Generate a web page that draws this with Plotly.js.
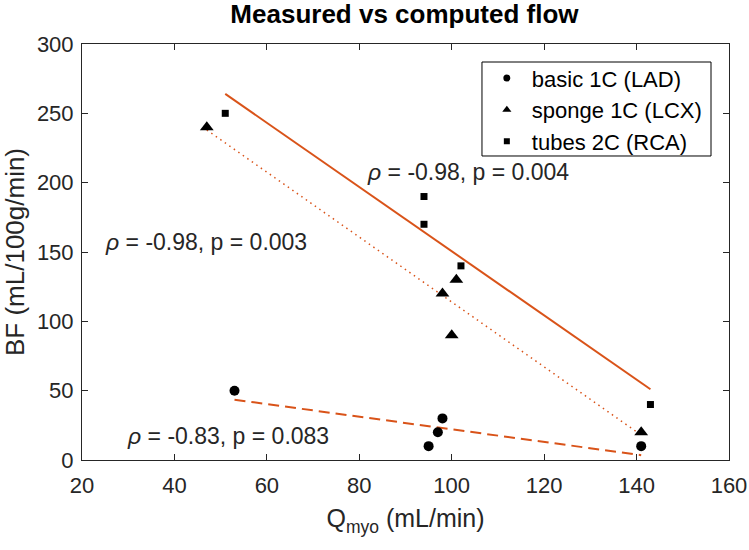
<!DOCTYPE html>
<html>
<head>
<meta charset="utf-8">
<script src="https://cdn.plot.ly/plotly-3.0.1.min.js"></script>
<style>html,body{margin:0;padding:0;background:#fff;}#chart{width:749px;height:550px;}</style>
</head>
<body>
<div id="chart"></div>
<script>
// Data
const ladName = 'basic 1C (LAD)';
const lcxName = 'sponge 1C (LCX)';
const rcaName = 'tubes 2C (RCA)';

const ladX = [53, 95, 97, 98, 141];
const ladY = [50, 10, 20, 30, 10];
const lcxX = [47, 98, 100, 101, 141];
const lcxY = [240, 120, 90, 130, 20];
const rcaX = [51, 94, 94, 102, 143];
const rcaY = [250, 190, 170, 140, 40];

// Fit lines (end points)
const fitLadX = [53, 141];
const fitLadY = [43.5, 3.5];
const fitLcxX = [47, 141];
const fitLcxY = [238, 18];
const fitRcaX = [51, 143];
const fitRcaY = [264, 51];

const xTicks = [20, 40, 60, 80, 100, 120, 140, 160];
const yTicks = [0, 50, 100, 150, 200, 250, 300];

const notes = [
  {x: 81.3, y: 208, text: '<i>ρ</i> = -0.98, p = 0.004'},
  {x: 24.6, y: 157, text: '<i>ρ</i> = -0.98, p = 0.003'},
  {x: 29.4, y: 17, text: '<i>ρ</i> = -0.83, p = 0.083'}
];

const FONT = 'Liberation Sans, Arial, Helvetica, sans-serif';
const TXT = '#262626';
const ORANGE = '#D95319';

const traces = [
  {x: fitLadX, y: fitLadY, mode: 'lines', line: {color: ORANGE, width: 2, dash: '11px,6px'}, showlegend: false, hoverinfo: 'skip'},
  {x: fitLcxX, y: fitLcxY, mode: 'lines', line: {color: ORANGE, width: 1.5, dash: '1.5px,4px'}, showlegend: false, hoverinfo: 'skip'},
  {x: fitRcaX, y: fitRcaY, mode: 'lines', line: {color: ORANGE, width: 2}, showlegend: false, hoverinfo: 'skip'},
  {x: ladX, y: ladY, mode: 'markers', marker: {symbol: 'circle', size: 10, color: '#000'}, showlegend: false},
  {x: lcxX, y: lcxY, mode: 'markers', marker: {symbol: 'triangle-up', size: 12, color: '#000'}, showlegend: false},
  {x: rcaX, y: rcaY, mode: 'markers', marker: {symbol: 'square', size: 7, color: '#000'}, showlegend: false},
  // legend entries
  {x: [null], y: [null], mode: 'markers', name: ladName, marker: {symbol: 'circle', size: 7, color: '#000'}},
  {x: [null], y: [null], mode: 'markers', name: lcxName, marker: {symbol: 'triangle-up', size: 8, color: '#000'}},
  {x: [null], y: [null], mode: 'markers', name: rcaName, marker: {symbol: 'square', size: 6, color: '#000'}}
];

const axisCommon = {
  showline: true, linecolor: TXT, linewidth: 1, mirror: 'ticks',
  ticks: 'inside', ticklen: 6, tickcolor: TXT, tickwidth: 1,
  showgrid: false, zeroline: false,
  tickfont: {family: FONT, size: 22, color: TXT}
};

const layout = {
  width: 749, height: 550,
  margin: {l: 82, r: 20, t: 44, b: 90, pad: 0},
  paper_bgcolor: '#fff', plot_bgcolor: '#fff',
  font: {family: FONT, color: TXT, size: 22},
  title: {text: '<b>Measured vs computed flow</b>', font: {family: FONT, size: 26, color: '#000'},
          x: 0.54, xanchor: 'center', y: 0.992, yanchor: 'top', yref: 'container', pad: {t: 0, b: 0}},
  xaxis: Object.assign({}, axisCommon, {
    range: [20, 160], tickvals: xTicks, ticktext: xTicks.map(String), ticklabelstandoff: 6,
    title: {text: 'Q<sub>myo</sub> (mL/min)', font: {family: FONT, size: 25, color: TXT}, standoff: 12}
  }),
  yaxis: Object.assign({}, axisCommon, {
    range: [0, 300], tickvals: yTicks, ticktext: yTicks.map(String), ticklabelstandoff: 3,
    title: {text: 'BF (mL/100g/min)', font: {family: FONT, size: 26, color: TXT}, standoff: 6}
  }),
  legend: {
    x: 0.618, y: 0.968, xanchor: 'left', yanchor: 'top',
    bgcolor: 'rgba(0,0,0,0)', borderwidth: 0,
    font: {family: FONT, size: 22, color: '#000'},
    itemsizing: 'trace', itemwidth: 40
  },
  shapes: [{
    type: 'rect', xref: 'paper', yref: 'paper', x0: 0.6182, x1: 0.9722, y0: 0.7308, y1: 0.9567,
    line: {color: '#000', width: 1}, fillcolor: '#fff', layer: 'above'
  }],
  annotations: notes.map(n => ({
    x: n.x, y: n.y, xref: 'x', yref: 'y', text: n.text, showarrow: false,
    xanchor: 'left', yanchor: 'middle', font: {family: FONT, size: 23, color: TXT}
  })),
  hovermode: false
};

Plotly.newPlot('chart', traces, layout, {displayModeBar: false, staticPlot: true});
</script>
</body>
</html>
